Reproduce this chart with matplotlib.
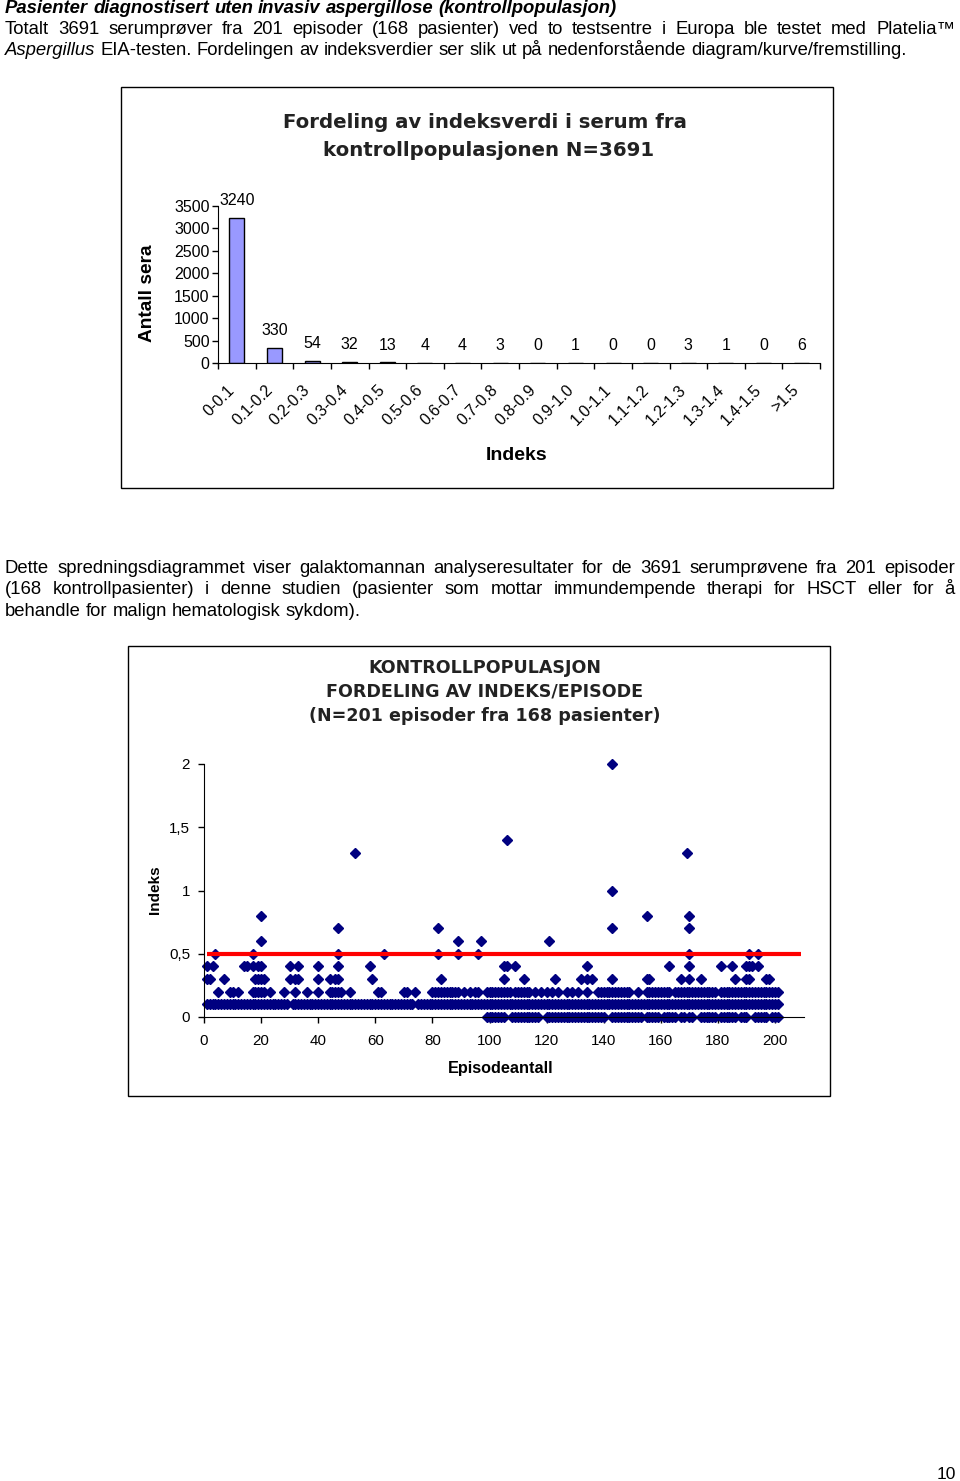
import matplotlib.pyplot as plt
import matplotlib.transforms as mtransforms
from matplotlib.patches import Rectangle


W, H = 960, 1481

# bar chart: distribution of index values (all sera)
bin_labels = ["0-0.1", "0.1-0.2", "0.2-0.3", "0.3-0.4", "0.4-0.5", "0.5-0.6",
              "0.6-0.7", "0.7-0.8", "0.8-0.9", "0.9-1.0", "1.0-1.1", "1.1-1.2",
              "1.2-1.3", "1.3-1.4", "1.4-1.5", ">1.5"]
sera_counts = [3240, 330, 54, 32, 13, 4, 4, 3, 0, 1, 0, 0, 3, 1, 0, 6]
count_ticks = [0, 500, 1000, 1500, 2000, 2500, 3000, 3500]

# scatter: index per episode, one list of episodes per index level
episodes_idx_00 = [99, 100, 101, 102, 103, 104, 105, 108, 109, 110, 111, 112, 113,
                   114, 115, 116, 117, 120, 121, 122, 123, 124, 125, 126, 127, 128,
                   129, 130, 131, 132, 133, 134, 135, 136, 137, 138, 139, 140, 143,
                   144, 145, 146, 147, 148, 149, 150, 151, 152, 153, 155, 156, 157,
                   158, 159, 161, 162, 163, 164, 165, 167, 168, 170, 171, 174, 175,
                   176, 177, 178, 179, 181, 182, 183, 184, 185, 186, 188, 189, 190,
                   193, 194, 195, 196, 197, 199, 200, 201]
episodes_idx_01 = [1, 2, 3, 4, 5, 6, 7, 8, 9, 10, 11, 12, 13, 14, 15, 16, 17, 18, 19, 20,
                   21, 22, 23, 24, 25, 26, 27, 28, 29, 31, 32, 33, 34, 35, 36, 37, 38, 39, 40,
                   41, 42, 43, 44, 45, 46, 47, 48, 49, 50, 51, 52, 53, 54, 55, 56, 57, 58,
                   59, 60, 61, 62, 63, 64, 65, 66, 67, 68, 69, 70, 71, 72, 73, 75, 76, 77,
                   78, 79, 80, 81, 82, 83, 84, 85, 86, 87, 88, 89, 90, 91, 92, 93, 94, 95,
                   96, 97, 98, 99, 100, 101, 102, 103, 104, 105, 106, 107, 108, 109, 110,
                   111, 112, 113, 114, 115, 116, 117, 118, 119, 120, 121, 122, 123, 124,
                   125, 126, 127, 128, 129, 130, 131, 132, 133, 134, 135, 136, 137, 138,
                   139, 140, 141, 142, 143, 144, 145, 146, 147, 148, 149, 150, 151, 152,
                   153, 154, 155, 156, 157, 158, 159, 160, 161, 162, 163, 164, 165, 166,
                   167, 168, 169, 170, 171, 172, 173, 174, 175, 176, 177, 178, 179, 180,
                   181, 182, 183, 184, 185, 186, 187, 188, 189, 190, 191, 192, 193, 194,
                   195, 196, 197, 198, 199, 200, 201]
episodes_idx_02 = [5, 9, 10, 12, 17, 18, 19, 20, 21, 23, 28, 32, 36, 40, 44, 45, 46, 47,
                   48, 51, 61, 62, 70, 71, 74, 80, 81, 82, 83, 84, 85, 86, 87, 88, 89, 91,
                   93, 95, 96, 99, 100, 101, 102, 103, 104, 105, 106, 107, 109, 110, 111,
                   112, 113, 114, 116, 118, 120, 122, 124, 127, 129, 131, 134, 138, 139,
                   140, 141, 142, 143, 144, 145, 146, 147, 148, 149, 152, 155, 156, 157,
                   158, 159, 160, 161, 162, 163, 165, 166, 167, 168, 169, 170, 171, 172,
                   173, 174, 175, 176, 177, 178, 179, 181, 182, 183, 184, 185, 186, 187,
                   188, 189, 190, 191, 192, 193, 194, 195, 196, 197, 198, 199, 200, 201]
episodes_idx_03 = [1, 2, 7, 18, 19, 20, 21, 30, 32, 33, 40, 44, 46, 47, 59, 83, 105, 112,
                   123, 132, 134, 136, 143, 155, 156, 167, 170, 174, 186, 190, 191, 197, 198]
episodes_idx_04 = [1, 3, 14, 15, 17, 19, 20, 30, 33, 40, 47, 58, 105, 106, 109, 134, 163,
                   170, 181, 185, 190, 191, 192, 194]
episodes_idx_05 = [4, 17, 47, 63, 82, 89, 96, 170, 191, 194]
episodes_idx_06 = [20, 89, 97, 121]
episodes_idx_07 = [47, 82, 143, 170]
episodes_idx_08 = [20, 155, 170]
episodes_idx_10 = [143]
episodes_idx_13 = [53, 169]
episodes_idx_14 = [106]
episodes_idx_20 = [143]
index_levels = [0.0, 0.1, 0.2, 0.3, 0.4, 0.5, 0.6, 0.7, 0.8, 1.0, 1.3, 1.4, 2.0]
cutoff = 0.5
episode_ticks = [0, 20, 40, 60, 80, 100, 120, 140, 160, 180, 200]
index_ticks = [0, 0.5, 1, 1.5, 2]
index_tick_labels = ["0", "0,5", "1", "1,5", "2"]

BODY = ["Liberation Sans", "DejaVu Sans"]
TITLE = "DejaVu Sans"
TEXT_SIZE = 13.3


def fx(px):
    return px / W


def fy(py):
    return 1 - py / H


def put_line(fig, parts, x0, y, x1=None, size=TEXT_SIZE):
    # place words one by one so a line can be justified between x0 and x1
    renderer = fig.canvas.get_renderer()
    probe_a = fig.text(0, 0, "x x", fontsize=size)
    probe_b = fig.text(0, 0, "xx", fontsize=size)
    space = (probe_a.get_window_extent(renderer).width
             - probe_b.get_window_extent(renderer).width)
    probe_a.remove()
    probe_b.remove()

    texts = []
    for word, style, weight in parts:
        t = fig.text(0, fy(y), word, fontsize=size, style=style,
                     weight=weight, va="baseline", ha="left")
        texts.append((t, t.get_window_extent(renderer).width))

    total = sum(w for _, w in texts)
    if x1 is None or len(texts) < 2:
        gap = space
    else:
        gap = (x1 - x0 - total) / (len(texts) - 1)

    x = x0
    for t, w in texts:
        t.set_x(fx(x))
        x += w + gap


def words(line, style="normal", weight="normal"):
    return [(w, style, weight) for w in line.split()]


def main():
    plt.rcParams["font.family"] = BODY
    fig = plt.figure(figsize=(W / 100, H / 100), dpi=100)

    # text above the bar chart
    put_line(fig, words("Pasienter diagnostisert uten invasiv aspergillose (kontrollpopulasjon)",
                        style="italic", weight="bold"), 5, 13)
    put_line(fig, words("Totalt 3691 serumprøver fra 201 episoder (168 pasienter) ved to "
                        "testsentre i Europa ble testet med Platelia™"), 5, 34, 955)
    put_line(fig, words("Aspergillus", style="italic")
             + words("EIA-testen. Fordelingen av indeksverdier ser slik ut på "
                     "nedenforstående diagram/kurve/fremstilling."), 5, 55)

    # bar chart
    fig.add_artist(Rectangle((fx(121), fy(488)), 712 / W, 401 / H,
                             transform=fig.transFigure, fill=False,
                             edgecolor="black", linewidth=1))
    fig.text(fx(485), fy(122), "Fordeling av indeksverdi i serum fra",
             family=TITLE, weight="bold", fontsize=14.2, ha="center",
             va="center", color="#222222")
    fig.text(fx(489), fy(151), "kontrollpopulasjonen N=3691",
             family=TITLE, weight="bold", fontsize=14.2, ha="center",
             va="center", color="#222222")

    ax1 = fig.add_axes([fx(218), fy(363), 602 / W, 157 / H])
    positions = list(range(len(bin_labels)))
    bars = ax1.bar(positions, sera_counts, width=0.4, color="#9999ff",
                   edgecolor="black", linewidth=1)
    ax1.bar_label(bars, padding=7, fontsize=11.5)
    ax1.set_xlim(-0.5, len(bin_labels) - 0.5)
    ax1.set_ylim(0, 3500)
    ax1.set_yticks(count_ticks)
    ax1.tick_params(axis="y", labelsize=11.5, length=4, width=1, pad=2)
    ax1.set_xticks(positions)
    ax1.set_xticklabels(bin_labels, rotation=45, ha="right",
                        rotation_mode="anchor", fontsize=11.5)
    ax1.tick_params(axis="x", which="major", length=0, pad=14)
    shift = mtransforms.ScaledTranslation(-7 / 72, 0, fig.dpi_scale_trans)
    for label in ax1.get_xticklabels():
        label.set_transform(label.get_transform() + shift)
    ax1.set_xticks([p - 0.5 for p in positions] + [positions[-1] + 0.5], minor=True)
    ax1.tick_params(axis="x", which="minor", length=4, width=1)
    for side in ("top", "right"):
        ax1.spines[side].set_visible(False)
    ax1.patch.set_alpha(0)

    fig.text(fx(148), fy(293), "Antall sera", rotation=90, fontsize=13.8,
             weight="bold", ha="center", va="center")
    fig.text(fx(517), fy(455), "Indeks", fontsize=14, weight="bold",
             ha="center", va="center")

    # text between the charts
    put_line(fig, words("Dette spredningsdiagrammet viser galaktomannan analyseresultater "
                        "for de 3691 serumprøvene fra 201 episoder"), 5, 573, 955)
    put_line(fig, words("(168 kontrollpasienter) i denne studien (pasienter som mottar "
                        "immundempende therapi for HSCT eller for å"), 5, 594, 955)
    put_line(fig, words("behandle for malign hematologisk sykdom)."), 5, 616)

    # scatter chart
    fig.add_artist(Rectangle((fx(128), fy(1096)), 702 / W, 450 / H,
                             transform=fig.transFigure, fill=False,
                             edgecolor="black", linewidth=1))
    title_lines = ["KONTROLLPOPULASJON", "FORDELING AV INDEKS/EPISODE",
                   "(N=201 episoder fra 168 pasienter)"]
    for line, y in zip(title_lines, (668, 692, 716)):
        fig.text(fx(485), fy(y), line, family=TITLE, weight="bold",
                 fontsize=12.6, ha="center", va="center", color="#222222")

    episode_lists = [episodes_idx_00, episodes_idx_01, episodes_idx_02,
                     episodes_idx_03, episodes_idx_04, episodes_idx_05,
                     episodes_idx_06, episodes_idx_07, episodes_idx_08,
                     episodes_idx_10, episodes_idx_13, episodes_idx_14,
                     episodes_idx_20]
    xs, ys = [], []
    for level, episodes in zip(index_levels, episode_lists):
        xs.extend(episodes)
        ys.extend([level] * len(episodes))

    ax2 = fig.add_axes([fx(204), fy(1017), 599.6 / W, 253 / H])
    ax2.plot(xs, ys, linestyle="none", marker="D", markersize=4.8,
             color="#000080", clip_on=False, zorder=2)
    ax2.hlines(cutoff, 1, 209, color="red", linewidth=3, zorder=3)
    ax2.set_xlim(0, 210)
    ax2.set_ylim(0, 2)
    ax2.set_xticks(episode_ticks)
    ax2.set_yticks(index_ticks)
    ax2.set_yticklabels(index_tick_labels)
    ax2.tick_params(labelsize=10.9, length=4, width=1)
    ax2.tick_params(axis="x", pad=8)
    ax2.tick_params(axis="y", pad=6)
    for side in ("top", "right"):
        ax2.spines[side].set_visible(False)
    ax2.patch.set_alpha(0)

    fig.text(fx(155), fy(890), "Indeks", rotation=90, fontsize=11,
             weight="bold", ha="center", va="center")
    fig.text(fx(501), fy(1069), "Episodeantall", fontsize=11.7, weight="bold",
             ha="center", va="center")

    fig.text(fx(956), fy(1479), "10", fontsize=12.5, ha="right", va="baseline")

    fig.savefig("out.png", dpi=100)
    plt.close(fig)


if __name__ == "__main__":
    main()
